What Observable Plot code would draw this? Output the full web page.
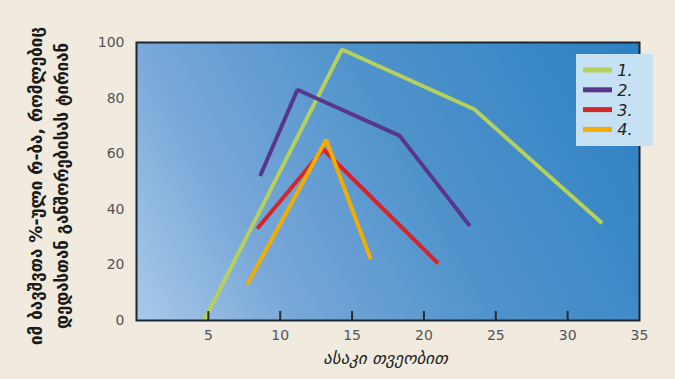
<!DOCTYPE html>
<html>
<head>
<meta charset="utf-8">
<script src="https://cdn.jsdelivr.net/npm/d3@7"></script>
<script src="https://cdn.jsdelivr.net/npm/@observablehq/plot@0.6"></script>
<style>
  html, body { margin: 0; padding: 0; background: #f0eadf; }
  #chart { width: 675px; height: 379px; position: relative; }
</style>
</head>
<body>
<div id="chart"></div>
<script>
// ---- data ----
const seriesNames = ["1.", "2.", "3.", "4."];
const seriesColors = ["#b5d15c", "#58368e", "#d3262a", "#f2ad00"];
const s1x = [4.7, 14.3, 23.5, 32.4];
const s1y = [0, 97.5, 76, 35];
const s2x = [8.6, 11.2, 18.3, 23.2];
const s2y = [52, 83, 66.5, 34];
const s3x = [8.4, 13.0, 21.0];
const s3y = [33, 61.5, 20.5];
const s4x = [7.7, 13.2, 16.3];
const s4y = [13, 65, 22];
const xTickLabels = [5, 10, 15, 20, 25, 30, 35];
const yTickLabels = [0, 20, 40, 60, 80, 100];
const xTitle = "ასაკი თვეობით";
const yTitle1 = "იმ ბავშვთა %-ული რ-ბა, რომლებიც";
const yTitle2 = "დედასთან განშორებისას ტირიან";

const allX = [s1x, s2x, s3x, s4x];
const allY = [s1y, s2y, s3y, s4y];
const series = seriesNames.map((name, i) => ({
  name, color: seriesColors[i],
  points: allX[i].map((x, j) => ({x, y: allY[i][j]}))
}));

const W = 675, H = 379;
const mL = 136, mR = 36, mT = 42, mB = 59;

const svg = Plot.plot({
  width: W, height: H,
  marginLeft: mL, marginRight: mR, marginTop: mT, marginBottom: mB,
  style: {background: "transparent", fontFamily: "'DejaVu Sans', sans-serif", fontSize: "14px", color: "#555"},
  x: {domain: [0, 35]},
  y: {domain: [0, 100]},
  marks: [
    Plot.frame({fill: "url(#bggrad)"}),
    ...series.map(s => Plot.line(s.points, {x: "x", y: "y", stroke: s.color, strokeWidth: 4, strokeLinejoin: "miter", strokeLinecap: "butt"})),
    Plot.frame({stroke: "#1d2633", strokeWidth: 2}),
    Plot.axisX(xTickLabels, {tickSize: 0, tickPadding: 10, label: null, fill: "#555"}),
    Plot.axisX(xTickLabels.slice(0, -1), {tickSize: -9, text: null, stroke: "#2b2b2b", strokeWidth: 2, label: null}),
    Plot.axisY(yTickLabels, {tickSize: 0, tickPadding: 12, label: null, fill: "#555"})
  ]
});

const root = d3.select(svg);
const defs = root.insert("defs", ":first-child");
const g = defs.append("linearGradient").attr("id", "bggrad")
  .attr("gradientUnits", "userSpaceOnUse")
  .attr("x1", mL).attr("y1", H - mB).attr("x2", W - mR).attr("y2", mT);
[[0, "#a9c9e9"], [0.25, "#77a7d8"], [0.55, "#5093cc"], [1, "#2c80c2"]].forEach(([o, c]) =>
  g.append("stop").attr("offset", o).attr("stop-color", c));

// axis titles
root.append("text")
  .attr("transform", `translate(${(mL + W - mR) / 2 - 2},${H - 15})`)
  .attr("text-anchor", "middle")
  .attr("font-family", "'DejaVu Sans', sans-serif")
  .attr("font-style", "italic")
  .attr("font-size", 17)
  .attr("fill", "#222")
  .text(xTitle);

const yc = 186;
[[yTitle1, 42, 318], [yTitle2, 68, 286]].forEach(([t, x, len]) => {
  root.append("text")
    .attr("transform", `translate(${x},${yc}) rotate(-90)`)
    .attr("text-anchor", "middle")
    .attr("font-family", "'DejaVu Sans', sans-serif")
    .attr("font-weight", "bold")
    .attr("font-size", 17)
    .attr("textLength", len)
    .attr("lengthAdjust", "spacingAndGlyphs")
    .attr("fill", "#1a1a1a")
    .text(t);
});

// legend
const lg = root.append("g").attr("transform", "translate(576,54)");
lg.append("rect").attr("width", 77).attr("height", 92).attr("fill", "#c6e0f4");
series.forEach((s, i) => {
  const yy = 16 + i * 19.8;
  lg.append("line").attr("x1", 7).attr("x2", 36).attr("y1", yy).attr("y2", yy)
    .attr("stroke", s.color).attr("stroke-width", 5);
  lg.append("text").attr("x", 49).attr("y", yy + 6)
    .attr("font-family", "'DejaVu Sans', sans-serif")
    .attr("font-style", "italic").attr("font-size", 16).attr("fill", "#222")
    .text(s.name);
});

document.getElementById("chart").appendChild(svg);
</script>
</body>
</html>
